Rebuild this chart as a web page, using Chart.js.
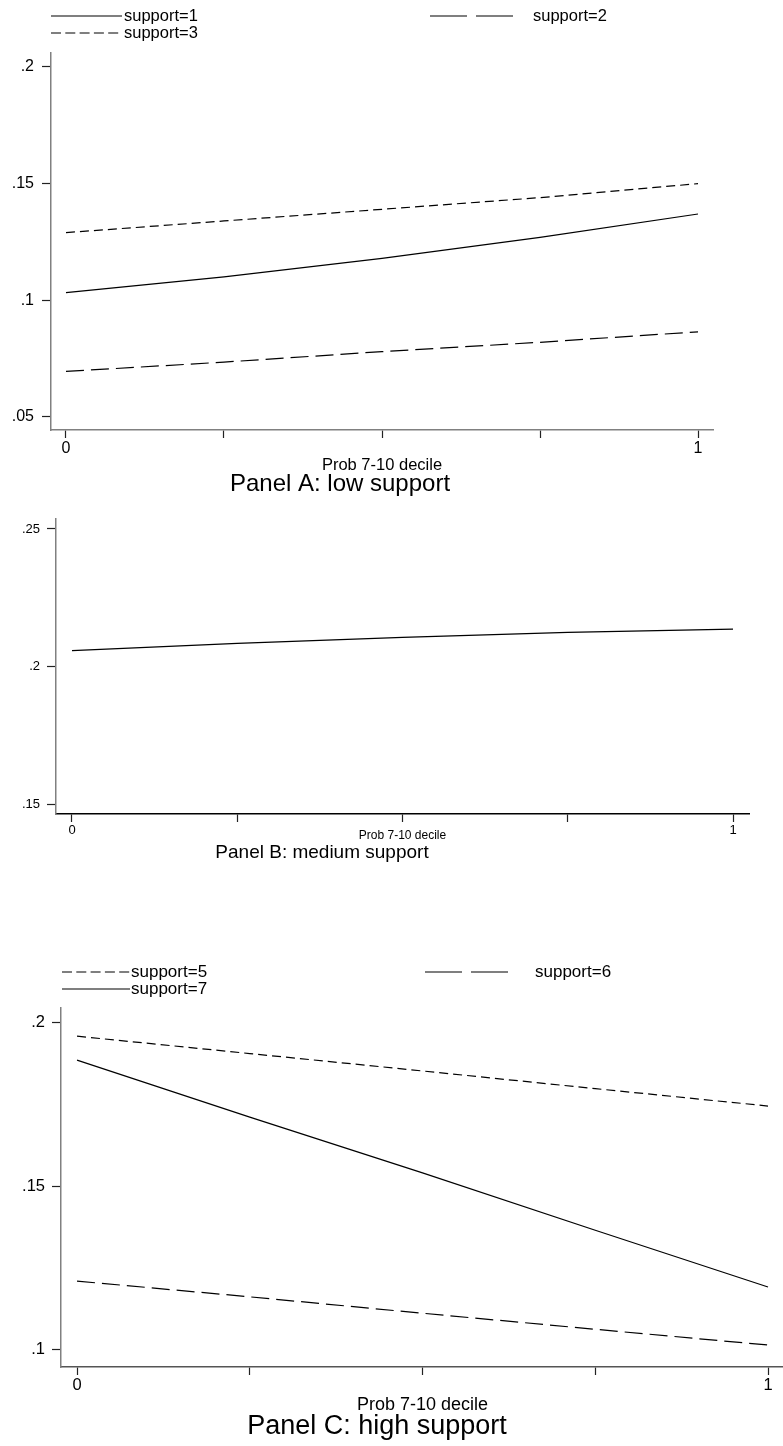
<!DOCTYPE html>
<html>
<head>
<meta charset="utf-8">
<script src="https://cdn.jsdelivr.net/npm/chart.js@4.4.1/dist/chart.umd.min.js"></script>
<style>
  html, body { margin: 0; padding: 0; background: #fff; }
  #wrap { position: relative; width: 783px; height: 1446px; overflow: hidden; }
  canvas { position: absolute; left: 0; }
</style>
</head>
<body>
<div id="wrap">
  <canvas id="panelA" width="783" height="500" style="top:0px"></canvas>
  <canvas id="panelB" width="783" height="370" style="top:500px"></canvas>
  <canvas id="panelC" width="783" height="576" style="top:870px"></canvas>
</div>
<script>
// Predicted probabilities against "Prob 7-10 decile", by level of support
const probDecile = [0, 0.25, 0.5, 0.75, 1];
const xTickValues = [0, 0.25, 0.5, 0.75, 1];
const xTickLabels = ['0', '', '', '', '1'];

// Panel A: low support
const lowSupport1 = [0.1033, 0.1100, 0.1180, 0.1270, 0.1370];
const lowSupport2 = [0.0695, 0.0735, 0.0780, 0.0820, 0.0865];
const lowSupport3 = [0.1290, 0.1340, 0.1390, 0.1440, 0.1500];
const lowTicks = [0.05, 0.1, 0.15, 0.2];
const lowTickLabels = ['.05', '.1', '.15', '.2'];

// Panel B: medium support
const mediumSupport4 = [0.2059, 0.2085, 0.2107, 0.2125, 0.2137];
const mediumTicks = [0.15, 0.2, 0.25];
const mediumTickLabels = ['.15', '.2', '.25'];

// Panel C: high support
const highSupport5 = [0.1957, 0.1904, 0.1851, 0.1797, 0.1744];
const highSupport6 = [0.1210, 0.1162, 0.1112, 0.1063, 0.1015];
const highSupport7 = [0.1884, 0.1710, 0.1540, 0.1365, 0.1192];
const highTicks = [0.1, 0.15, 0.2];
const highTickLabels = ['.1', '.15', '.2'];

const FONT = '"Liberation Sans", Arial, Helvetica, sans-serif';
// dash patterns for the plotted lines and for the key samples
const SOLID = { line: [], key: [] };
const LONG_DASH = { line: [18, 7], key: [37, 9] };
const SHORT_DASH = { line: [9, 5], key: [10, 4.3] };

function series(label, values, style) {
  return {
    label: label,
    data: probDecile.map((x, i) => ({ x: x, y: values[i] })),
    borderColor: '#000',
    borderWidth: 1.2,
    borderDash: style.line,
    keyDash: style.key,
    pointRadius: 0,
    fill: false,
    tension: 0
  };
}

// Draws the panel captions, axis title and the Stata-style key
const panelText = {
  id: 'panelText',
  afterDraw(chart, args, opts) {
    const ctx = chart.ctx;
    ctx.save();
    ctx.fillStyle = '#000';
    ctx.textBaseline = 'middle';
    (opts.legend || []).forEach(item => {
      const ds = chart.data.datasets[item.dataset];
      ctx.strokeStyle = ds.borderColor;
      ctx.lineWidth = ds.borderWidth;
      ctx.setLineDash(ds.keyDash || []);
      ctx.beginPath();
      ctx.moveTo(item.x1, item.y);
      ctx.lineTo(item.x2, item.y);
      ctx.stroke();
      ctx.setLineDash([]);
      ctx.font = item.size + 'px ' + FONT;
      ctx.textAlign = 'left';
      ctx.fillText(ds.label, item.textX, item.y);
    });
    (opts.texts || []).forEach(t => {
      ctx.font = t.size + 'px ' + FONT;
      ctx.textAlign = 'center';
      const x = t.atValue !== undefined ? chart.scales.x.getPixelForValue(t.atValue) : t.x;
      ctx.fillText(t.text, x, t.y);
    });
    ctx.restore();
  }
};

function makePanel(id, p) {
  const ctx = document.getElementById(id);
  return new Chart(ctx, {
    type: 'line',
    data: { datasets: p.datasets },
    plugins: [panelText],
    options: {
      responsive: false,
      animation: false,
      events: [],
      devicePixelRatio: 1,
      layout: { padding: { top: p.top, right: p.right, bottom: 0, left: 0 } },
      plugins: {
        legend: { display: false },
        tooltip: { enabled: false },
        panelText: { texts: p.texts, legend: p.legend }
      },
      scales: {
        x: {
          type: 'linear',
          min: p.xMin, max: p.xMax,
          afterBuildTicks: s => { s.ticks = xTickValues.map(v => ({ value: v })); },
          afterFit: s => { s.height = p.xHeight; },
          border: { display: true, color: p.xAxisColor, width: 1.5 },
          grid: { display: true, drawOnChartArea: false, drawTicks: true, tickLength: 8, tickColor: '#222', tickWidth: 1.2 },
          ticks: {
            autoSkip: false, maxRotation: 0, padding: 1,
            color: '#000', font: { family: FONT, size: p.tickSize },
            callback: (v, i) => xTickLabels[i]
          }
        },
        y: {
          type: 'linear',
          min: p.yMin, max: p.yMax,
          afterBuildTicks: s => { s.ticks = p.yTicks.map(v => ({ value: v })); },
          afterFit: s => { s.width = p.yWidth; },
          border: { display: true, color: '#808080', width: 1.5 },
          grid: { display: true, drawOnChartArea: false, drawTicks: true, tickLength: 9, tickColor: '#222', tickWidth: 1.2 },
          ticks: {
            autoSkip: false, padding: p.yPad,
            color: '#000', font: { family: FONT, size: p.tickSize },
            callback: (v, i) => p.yLabels[i]
          }
        }
      }
    }
  });
}

makePanel('panelA', {
  datasets: [
    series('support=1', lowSupport1, SOLID),
    series('support=2', lowSupport2, LONG_DASH),
    series('support=3', lowSupport3, SHORT_DASH)
  ],
  top: 53, right: 70, xHeight: 70, yWidth: 51, yPad: 8,
  xMin: -0.0237, xMax: 1.0237, yMin: 0.0444, yMax: 0.206,
  yTicks: lowTicks, yLabels: lowTickLabels, tickSize: 16, xAxisColor: '#808080',
  legend: [
    { dataset: 0, x1: 51, x2: 122, textX: 124, y: 16, size: 16.5 },
    { dataset: 1, x1: 430, x2: 513, textX: 533, y: 16, size: 16.5 },
    { dataset: 2, x1: 51, x2: 122, textX: 124, y: 33, size: 16.5 }
  ],
  texts: [
    { text: 'Prob 7-10 decile', atValue: 0.5, y: 465, size: 16.5 },
    { text: 'Panel A: low support', x: 340, y: 484, size: 24 }
  ]
});

makePanel('panelB', {
  datasets: [ series('support=4', mediumSupport4, SOLID) ],
  top: 19, right: 34, xHeight: 56, yWidth: 56, yPad: 7,
  xMin: -0.0242, xMax: 1.0242, yMin: 0.1467, yMax: 0.2536,
  yTicks: mediumTicks, yLabels: mediumTickLabels, tickSize: 13, xAxisColor: '#000',
  legend: [],
  texts: [
    { text: 'Prob 7-10 decile', atValue: 0.5, y: 336, size: 12 },
    { text: 'Panel B: medium support', x: 322, y: 353, size: 19 }
  ]
});

makePanel('panelC', {
  datasets: [
    series('support=5', highSupport5, SHORT_DASH),
    series('support=6', highSupport6, LONG_DASH),
    series('support=7', highSupport7, SOLID)
  ],
  top: 138, right: 0, xHeight: 79, yWidth: 61, yPad: 7,
  xMin: -0.0232, xMax: 1.0217, yMin: 0.0948, yMax: 0.2043,
  yTicks: highTicks, yLabels: highTickLabels, tickSize: 16.5, xAxisColor: '#555',
  legend: [
    { dataset: 0, x1: 62, x2: 130, textX: 131, y: 102, size: 17 },
    { dataset: 1, x1: 425, x2: 515, textX: 535, y: 102, size: 17 },
    { dataset: 2, x1: 62, x2: 130, textX: 131, y: 119, size: 17 }
  ],
  texts: [
    { text: 'Prob 7-10 decile', atValue: 0.5, y: 535, size: 18 },
    { text: 'Panel C: high support', x: 377, y: 557, size: 27 }
  ]
});
</script>
</body>
</html>
